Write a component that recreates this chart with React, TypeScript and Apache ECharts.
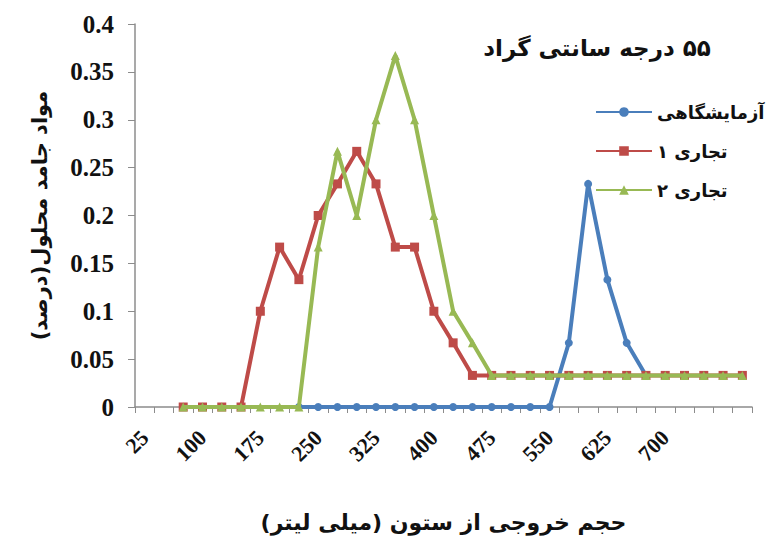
import React, { useEffect, useRef } from "react";
import * as echarts from "echarts";

// 32 categories (volume, ml) – the last four carry no label in the original
const categories: string[] = [
  "25", "50", "75", "100", "125", "150", "175", "200", "225", "250",
  "275", "300", "325", "350", "375", "400", "425", "450", "475", "500",
  "525", "550", "575", "600", "625", "650", "675", "700", "", "", "", "",
];

const seriesNames: string[] = ["آزمایشگاهی", "تجاری ۱", "تجاری ۲"];

const lab: (number | null)[] = [
  null, null, null, null, null, null, null, null, 0, 0,
  0, 0, 0, 0, 0, 0, 0, 0, 0, 0,
  0, 0, 0.067, 0.233, 0.133, 0.067, 0.033, null, null, null, null, null,
];

const com1: (number | null)[] = [
  null, null, 0, 0, 0, 0, 0.1, 0.167, 0.133, 0.2,
  0.233, 0.267, 0.233, 0.167, 0.167, 0.1, 0.067, 0.033, 0.033, 0.033,
  0.033, 0.033, 0.033, 0.033, 0.033, 0.033, 0.033, 0.033, 0.033, 0.033, 0.033, 0.033,
];

const com2: (number | null)[] = [
  null, null, 0, 0, 0, 0, 0, 0, 0, 0.167,
  0.267, 0.2, 0.3, 0.367, 0.3, 0.2, 0.1, 0.067, 0.033, 0.033,
  0.033, 0.033, 0.033, 0.033, 0.033, 0.033, 0.033, 0.033, 0.033, 0.033, 0.033, 0.033,
];

const titleText = "۵۵ درجه سانتی گراد";
const xName = "حجم خروجی از ستون (میلی لیتر)";
const yName = "مواد جامد محلول(درصد)";

const colors = ["#4A7EBB", "#BE4B48", "#98B954"];

// right-to-left embedding so that digits and brackets sit where Persian text puts them
const rtl = (s: string) => "\u202B" + s + "\u202C";

export default function App() {
  const ref = useRef<HTMLDivElement>(null);
  useEffect(() => {
    if (!ref.current) return;
    const chart = echarts.init(ref.current, null, { renderer: "svg" });
    const serif = "'Liberation Serif', 'Times New Roman', serif";
    const fa = "'DejaVu Sans', sans-serif";
    const symbols = ["circle", "rect", "triangle"];
    const sizes = [8, 9, 9];
    const datas = [lab, com1, com2];
    chart.setOption({
      animation: false,
      backgroundColor: "#ffffff",
      title: {
        text: rtl(titleText),
        left: 592,
        top: 31,
        textAlign: "center",
        textStyle: { fontFamily: fa, fontWeight: "bold", fontSize: 23, color: "#111" },
      },
      legend: {
        orient: "vertical",
        left: 590,
        top: 98,
        itemWidth: 56,
        itemHeight: 12,
        itemGap: 21,
        data: seriesNames,
        formatter: (n: string) => rtl(n),
        textStyle: { fontFamily: fa, fontWeight: "bold", fontSize: 18, color: "#111" },
      },
      grid: { left: 135, top: 24, width: 617, height: 383 },
      xAxis: {
        type: "category",
        data: categories,
        boundaryGap: true,
        name: rtl(xName),
        nameLocation: "middle",
        nameGap: 104,
        nameTextStyle: { fontFamily: fa, fontWeight: "bold", fontSize: 22, color: "#111" },
        axisLine: { lineStyle: { color: "#8c8c8c", width: 1.5 } },
        axisTick: { show: true, length: 6, interval: 0, lineStyle: { color: "#8c8c8c" } },
        axisLabel: {
          interval: 2,
          rotate: 45,
          margin: 27,
          fontFamily: serif,
          fontWeight: "bold",
          fontSize: 22,
          color: "#111",
        },
        splitLine: { show: false },
      },
      yAxis: {
        type: "value",
        min: 0,
        max: 0.4,
        interval: 0.05,
        name: rtl(yName),
        nameLocation: "middle",
        nameRotate: 90,
        nameGap: 85,
        nameTextStyle: { fontFamily: fa, fontWeight: "bold", fontSize: 21, color: "#111" },
        axisLine: { show: true, lineStyle: { color: "#8c8c8c", width: 1.5 } },
        axisTick: { show: true, length: 7, lineStyle: { color: "#8c8c8c" } },
        axisLabel: {
          margin: 21,
          fontFamily: serif,
          fontWeight: "bold",
          fontSize: 25,
          color: "#111",
        },
        splitLine: { show: false },
      },
      series: seriesNames.map((n, k) => ({
        name: n,
        type: "line",
        data: datas[k],
        symbol: symbols[k],
        symbolSize: sizes[k],
        showAllSymbol: true,
        connectNulls: false,
        lineStyle: { color: colors[k], width: 4 },
        itemStyle: { color: colors[k] },
        z: 2 + k,
      })),
    });
    return () => chart.dispose();
  }, []);
  return (
    <div
      ref={ref}
      style={{ position: "fixed", left: 0, top: 0, width: 767, height: 550, background: "#fff" }}
    />
  );
}
